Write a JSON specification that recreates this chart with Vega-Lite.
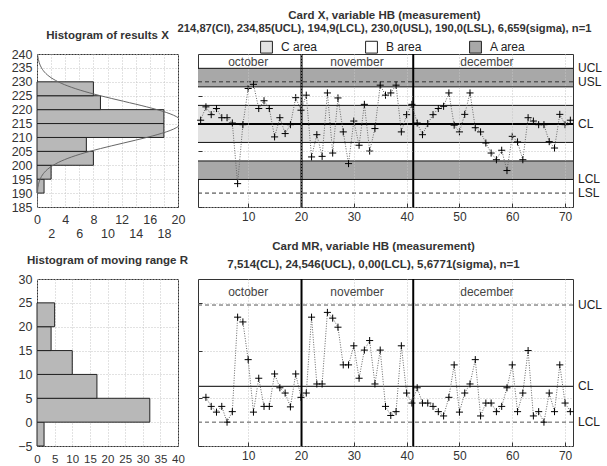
{
  "$schema": "https://vega.github.io/schema/vega-lite/v6.json",
  "background": "white",
  "padding": {"left": 10, "top": 9, "right": 2, "bottom": 2},
  "config": {
    "font": "Liberation Sans",
    "view": {"stroke": "#333", "strokeWidth": 1},
    "axis": {"labelFont": "Liberation Sans", "labelFontSize": 12, "labelColor": "#333", "gridColor": "#c4c4c4", "gridDash": [1, 2], "gridWidth": 1, "domain": false, "ticks": false, "labelOverlap": false, "labelFlush": false},
    "title": {"font": "Liberation Sans", "fontSize": 11.5, "fontWeight": "bold", "color": "#333", "subtitleFont": "Liberation Sans", "subtitleFontSize": 11.5, "subtitleFontWeight": "bold", "subtitleColor": "#333"}
  },
  "datasets": {
    "histX": [{"lo":190,"hi":195,"n":1},{"lo":195,"hi":200,"n":2},{"lo":200,"hi":205,"n":8},{"lo":205,"hi":210,"n":7},{"lo":210,"hi":215,"n":18},{"lo":215,"hi":220,"n":18},{"lo":220,"hi":225,"n":9},{"lo":225,"hi":230,"n":8}],
    "histMR": [{"lo":-5,"hi":0,"n":2},{"lo":0,"hi":5,"n":32},{"lo":5,"hi":10,"n":17},{"lo":10,"hi":15,"n":10},{"lo":15,"hi":20,"n":4},{"lo":20,"hi":25,"n":5}],
    "curveX": [{"v":185,"f":0.004},{"v":187,"f":0.012},{"v":189,"f":0.034},{"v":191,"f":0.085},{"v":193,"f":0.2},{"v":195,"f":0.44},{"v":197,"f":0.9},{"v":199,"f":1.71},{"v":201,"f":3.01},{"v":203,"f":4.92},{"v":205,"f":7.49},{"v":207,"f":10.6},{"v":209,"f":13.94},{"v":211,"f":17.04},{"v":213,"f":19.36},{"v":215,"f":20.45},{"v":217,"f":20.08},{"v":219,"f":18.33},{"v":221,"f":15.55},{"v":223,"f":12.27},{"v":225,"f":8.99},{"v":227,"f":6.13},{"v":229,"f":3.88},{"v":231,"f":2.29},{"v":233,"f":1.25},{"v":235,"f":0.64},{"v":237,"f":0.3},{"v":239,"f":0.13},{"v":240,"f":0.085}],
    "bands": [{"area":"A area","lo":228.19,"hi":234.85},{"area":"B area","lo":221.53,"hi":228.19},{"area":"C area","lo":208.21,"hi":221.53},{"area":"B area","lo":201.55,"hi":208.21},{"area":"A area","lo":194.9,"hi":201.55}],
    "edges": [{"v":234.85},{"v":228.19},{"v":221.53},{"v":208.21},{"v":201.55},{"v":194.9}],
    "specX": [{"v":230},{"v":190}],
    "limX": [{"name":"UCL","v":234.85},{"name":"USL","v":230},{"name":"CL","v":214.87},{"name":"LCL","v":194.9},{"name":"LSL","v":190}],
    "limMRdash": [{"v":24.546},{"v":0}],
    "limMR": [{"name":"UCL","v":24.546},{"name":"CL","v":7.514},{"name":"LCL","v":0}],
    "seps": [{"d":20.1},{"d":41.25}],
    "months": [{"month":"october","mid":10},{"month":"november","mid":30.6},{"month":"december","mid":55.2}],
    "xdata": [{"i":1,"v":216.2},{"i":2,"v":221.0},{"i":3,"v":218.2},{"i":4,"v":220.4},{"i":5,"v":217.1},{"i":6,"v":217.1},{"i":7,"v":215.2},{"i":8,"v":193.4},{"i":9,"v":214.6},{"i":10,"v":227.6},{"i":11,"v":229.1},{"i":12,"v":220.4},{"i":13,"v":223.2},{"i":14,"v":220.4},{"i":15,"v":210.2},{"i":16,"v":217.1},{"i":17,"v":211.4},{"i":18,"v":214.6},{"i":19,"v":224.3},{"i":20,"v":219.8},{"i":21,"v":225.2},{"i":22,"v":203.0},{"i":23,"v":211.0},{"i":24,"v":203.2},{"i":25,"v":226.0},{"i":26,"v":204.4},{"i":27,"v":224.2},{"i":28,"v":212.0},{"i":29,"v":200.6},{"i":30,"v":215.9},{"i":31,"v":207.2},{"i":32,"v":221.9},{"i":33,"v":205.1},{"i":34,"v":213.2},{"i":35,"v":228.8},{"i":36,"v":225.2},{"i":37,"v":226.0},{"i":38,"v":228.8},{"i":39,"v":212.0},{"i":40,"v":218.2},{"i":41,"v":221.9},{"i":42,"v":215.2},{"i":43,"v":211.0},{"i":44,"v":215.0},{"i":45,"v":218.2},{"i":46,"v":220.4},{"i":47,"v":221.2},{"i":48,"v":226.0},{"i":49,"v":214.4},{"i":50,"v":212.0},{"i":51,"v":218.3},{"i":52,"v":226.0},{"i":53,"v":213.5},{"i":54,"v":212.0},{"i":55,"v":208.0},{"i":56,"v":204.4},{"i":57,"v":202.0},{"i":58,"v":205.4},{"i":59,"v":198.1},{"i":60,"v":210.4},{"i":61,"v":208.4},{"i":62,"v":202.0},{"i":63,"v":217.1},{"i":64,"v":215.9},{"i":65,"v":214.6},{"i":66,"v":214.6},{"i":67,"v":208.5},{"i":68,"v":206.2},{"i":69,"v":218.3},{"i":70,"v":214.6},{"i":71,"v":216.2}],
    "mrdata": [{"i":2,"v":5.2},{"i":3,"v":3.3},{"i":4,"v":2.1},{"i":5,"v":3.3},{"i":6,"v":0},{"i":7,"v":2.2},{"i":8,"v":22.0},{"i":9,"v":21.0},{"i":10,"v":13.1},{"i":11,"v":2.1},{"i":12,"v":9.2},{"i":13,"v":3.3},{"i":14,"v":3.3},{"i":15,"v":10.1},{"i":16,"v":7.2},{"i":17,"v":6.1},{"i":18,"v":3.2},{"i":19,"v":10.1},{"i":20,"v":5.2},{"i":21,"v":6.1},{"i":22,"v":22.0},{"i":23,"v":8.0},{"i":24,"v":8.0},{"i":25,"v":23.0},{"i":26,"v":21.8},{"i":27,"v":19.9},{"i":28,"v":12.0},{"i":29,"v":12.0},{"i":30,"v":16.0},{"i":31,"v":9.2},{"i":32,"v":15.1},{"i":33,"v":17.1},{"i":34,"v":8.0},{"i":35,"v":15.1},{"i":36,"v":3.3},{"i":37,"v":1.4},{"i":38,"v":2.2},{"i":39,"v":16.0},{"i":40,"v":6.1},{"i":41,"v":4.0},{"i":42,"v":7.2},{"i":43,"v":4.0},{"i":44,"v":4.0},{"i":45,"v":3.3},{"i":46,"v":2.2},{"i":47,"v":1.3},{"i":48,"v":5.2},{"i":49,"v":12.0},{"i":50,"v":2.1},{"i":51,"v":6.1},{"i":52,"v":8.0},{"i":53,"v":13.1},{"i":54,"v":1.3},{"i":55,"v":4.0},{"i":56,"v":4.0},{"i":57,"v":2.2},{"i":58,"v":3.3},{"i":59,"v":7.2},{"i":60,"v":12.0},{"i":61,"v":2.2},{"i":62,"v":6.1},{"i":63,"v":15.0},{"i":64,"v":1.3},{"i":65,"v":2.2},{"i":66,"v":0},{"i":67,"v":6.1},{"i":68,"v":2.2},{"i":69,"v":12.0},{"i":70,"v":4.0},{"i":71,"v":2.2}]
  },
  "resolve": {"scale": {"fill": "independent"}, "legend": {"fill": "independent"}},
  "spacing": {"row": 72, "column": 20},
  "bounds": "flush",
  "columns": 2,
  "concat": [
    {
      "width": 141, "height": 153,
      "title": {"text": "Histogram of results X", "offset": 7},
      "layer": [
        {
          "data": {"name": "histX"},
          "mark": {"type": "rect", "fill": "#b8b8b8", "stroke": "#222", "strokeWidth": 1},
          "encoding": {
            "y": {"field": "lo", "type": "quantitative", "scale": {"domain": [185, 240], "nice": false, "zero": false}, "axis": {"title": null, "values": [185,190,195,200,205,210,215,220,225,230,235,240], "grid": true, "labelPadding": 5, "labelFontSize": 12.5, "labelOverlap": false, "labelFlush": false}},
            "y2": {"field": "hi"},
            "x": {"field": "n", "type": "quantitative", "scale": {"domain": [0, 20], "nice": false}, "axis": {"title": null, "values": [0,2,4,6,8,10,12,14,16,18,20], "grid": true, "labelFontSize": 12.5, "labelPadding": 6, "labelOverlap": false, "labelFlush": false, "labelExpr": "datum.value % 4 === 0 ? datum.label : ['', datum.label]"}},
            "x2": {"datum": 0}
          }
        },
        {
          "data": {"name": "curveX"},
          "mark": {"type": "line", "color": "#666", "strokeWidth": 1, "clip": true, "interpolate": "cardinal"},
          "encoding": {
            "y": {"field": "v", "type": "quantitative", "axis": {"title": null, "values": [185,190,195,200,205,210,215,220,225,230,235,240], "grid": true, "labelPadding": 5, "labelFontSize": 12.5, "labelOverlap": false, "labelFlush": false}},
            "x": {"field": "f", "type": "quantitative", "axis": {"title": null, "values": [0,2,4,6,8,10,12,14,16,18,20], "grid": true, "labelFontSize": 12.5, "labelPadding": 6, "labelOverlap": false, "labelFlush": false, "labelExpr": "datum.value % 4 === 0 ? datum.label : ['', datum.label]"}},
            "order": {"field": "v"}
          }
        }
      ]
    },
    {
      "width": 375, "height": 153,
      "title": {"text": "Card X, variable HB (measurement)", "subtitle": "214,87(Cl), 234,85(UCL), 194,9(LCL), 230,0(USL), 190,0(LSL), 6,659(sigma), n=1", "subtitleFontSize": 11.2, "subtitlePadding": 2, "offset": 6, "dx": -1},
      "layer": [
        {
          "data": {"name": "bands"},
          "mark": {"type": "rect"},
          "encoding": {
            "x": {"datum": 0.5, "type": "quantitative", "scale": {"domain": [0.5, 71.5], "nice": false, "zero": false}, "axis": {"title": null, "values": [10,20,30,40,50,60,70], "grid": true, "ticks": true, "tickSize": -4, "tickColor": "#333", "labelPadding": 8, "zindex": 1, "labelOverlap": false}},
            "x2": {"datum": 71.5},
            "y": {"field": "lo", "type": "quantitative", "scale": {"domain": [185, 240], "nice": false, "zero": false}, "axis": {"title": null, "values": [185,190,195,200,205,210,215,220,225,230,235,240], "grid": true, "labels": false, "ticks": true, "tickSize": -4, "tickColor": "#333", "zindex": 1}},
            "y2": {"field": "hi"},
            "fill": {"field": "area", "type": "nominal", "scale": {"domain": ["C area", "B area", "A area"], "range": ["#e2e2e2", "#ffffff", "#a8a8a8"]}, "legend": {"orient": "none", "legendX": 62, "legendY": -13.6, "direction": "horizontal", "title": null, "symbolType": "square", "symbolStrokeColor": "#222", "symbolStrokeWidth": 1, "symbolSize": 140, "labelFontSize": 12, "labelColor": "#222", "columnPadding": 45, "labelOffset": 8, "padding": 0}}
          }
        },
        {
          "data": {"name": "edges"},
          "mark": {"type": "rule", "color": "#111", "strokeWidth": 1},
          "encoding": {"x": {"datum": 0.5, "type": "quantitative"}, "x2": {"datum": 71.5}, "y": {"field": "v", "type": "quantitative"}}
        },
        {
          "data": {"name": "specX"},
          "mark": {"type": "rule", "color": "#333", "strokeWidth": 1, "strokeDash": [4, 3]},
          "encoding": {"x": {"datum": 0.5, "type": "quantitative"}, "x2": {"datum": 71.5}, "y": {"field": "v", "type": "quantitative"}}
        },
        {
          "data": {"name": "limX"},
          "transform": [{"filter": "datum.name === 'CL'"}],
          "mark": {"type": "rule", "color": "#000", "strokeWidth": 2},
          "encoding": {"x": {"datum": 0.5, "type": "quantitative"}, "x2": {"datum": 71.5}, "y": {"field": "v", "type": "quantitative"}}
        },
        {
          "data": {"name": "seps"},
          "mark": {"type": "rule", "color": "#000", "strokeWidth": 2},
          "encoding": {"x": {"field": "d", "type": "quantitative"}, "y": {"datum": 185, "type": "quantitative"}, "y2": {"datum": 240}}
        },
        {
          "data": {"name": "months"},
          "mark": {"type": "text", "fontSize": 12, "color": "#444", "baseline": "middle"},
          "encoding": {"x": {"field": "mid", "type": "quantitative"}, "y": {"datum": 237.2, "type": "quantitative"}, "text": {"field": "month"}}
        },
        {
          "data": {"name": "xdata"},
          "mark": {"type": "line", "color": "#666", "strokeWidth": 1, "strokeDash": [1, 1.5]},
          "encoding": {"x": {"field": "i", "type": "quantitative"}, "y": {"field": "v", "type": "quantitative"}}
        },
        {
          "data": {"name": "xdata"},
          "mark": {"type": "point", "shape": "M-1,0L1,0M0,-1L0,1", "filled": false, "stroke": "#000", "strokeWidth": 1, "size": 50, "opacity": 1},
          "encoding": {"x": {"field": "i", "type": "quantitative"}, "y": {"field": "v", "type": "quantitative"}}
        },
        {
          "data": {"name": "limX"},
          "mark": {"type": "text", "align": "left", "baseline": "middle", "dx": 5, "fontSize": 12, "color": "#222"},
          "encoding": {"x": {"datum": 71.5, "type": "quantitative"}, "y": {"field": "v", "type": "quantitative"}, "text": {"field": "name"}}
        }
      ]
    },
    {
      "width": 141, "height": 167,
      "title": {"text": "Histogram of moving range R", "offset": 7},
      "data": {"name": "histMR"},
      "mark": {"type": "rect", "fill": "#b8b8b8", "stroke": "#222", "strokeWidth": 1},
      "encoding": {
        "y": {"field": "lo", "type": "quantitative", "scale": {"domain": [-5, 30], "nice": false, "zero": false}, "axis": {"title": null, "values": [-5,0,5,10,15,20,25,30], "grid": true, "labelPadding": 5, "labelFontSize": 12.5, "labelOverlap": false, "labelFlush": false}},
        "y2": {"field": "hi"},
        "x": {"field": "n", "type": "quantitative", "scale": {"domain": [0, 40], "nice": false}, "axis": {"title": null, "values": [0,5,10,15,20,25,30,35,40], "grid": true, "labelFontSize": 11.5, "labelPadding": 7, "labelOverlap": false, "labelFlush": false}},
        "x2": {"datum": 0}
      }
    },
    {
      "width": 375, "height": 167,
      "title": {"text": "Card MR, variable HB (measurement)", "subtitle": "7,514(CL), 24,546(UCL), 0,00(LCL), 5,6771(sigma), n=1", "subtitlePadding": 6, "offset": 8, "dx": -12},
      "layer": [
        {
          "data": {"name": "limMRdash"},
          "mark": {"type": "rule", "color": "#555", "strokeWidth": 1, "strokeDash": [4, 3]},
          "encoding": {
            "x": {"datum": 0.5, "type": "quantitative", "scale": {"domain": [0.5, 71.5], "nice": false, "zero": false}, "axis": {"title": null, "values": [10,20,30,40,50,60,70], "grid": true, "ticks": true, "tickSize": -4, "tickColor": "#333", "labelPadding": 8, "labelOverlap": false}},
            "x2": {"datum": 71.5},
            "y": {"field": "v", "type": "quantitative", "scale": {"domain": [-5, 30], "nice": false, "zero": false}, "axis": {"title": null, "values": [-5,0,5,10,15,20,25,30], "grid": true, "labels": false, "ticks": true, "tickSize": -4, "tickColor": "#333"}}
          }
        },
        {
          "data": {"name": "limMR"},
          "transform": [{"filter": "datum.name === 'CL'"}],
          "mark": {"type": "rule", "color": "#333", "strokeWidth": 1.2},
          "encoding": {"x": {"datum": 0.5, "type": "quantitative"}, "x2": {"datum": 71.5}, "y": {"field": "v", "type": "quantitative"}}
        },
        {
          "data": {"name": "seps"},
          "mark": {"type": "rule", "color": "#000", "strokeWidth": 2},
          "encoding": {"x": {"field": "d", "type": "quantitative"}, "y": {"datum": -5, "type": "quantitative"}, "y2": {"datum": 30}}
        },
        {
          "data": {"name": "months"},
          "mark": {"type": "text", "fontSize": 12, "color": "#444", "baseline": "middle"},
          "encoding": {"x": {"field": "mid", "type": "quantitative"}, "y": {"datum": 27.2, "type": "quantitative"}, "text": {"field": "month"}}
        },
        {
          "data": {"name": "mrdata"},
          "mark": {"type": "line", "color": "#666", "strokeWidth": 1, "strokeDash": [1, 1.5]},
          "encoding": {"x": {"field": "i", "type": "quantitative"}, "y": {"field": "v", "type": "quantitative"}}
        },
        {
          "data": {"name": "mrdata"},
          "mark": {"type": "point", "shape": "M-1,0L1,0M0,-1L0,1", "filled": false, "stroke": "#000", "strokeWidth": 1, "size": 50, "opacity": 1},
          "encoding": {"x": {"field": "i", "type": "quantitative"}, "y": {"field": "v", "type": "quantitative"}}
        },
        {
          "data": {"name": "limMR"},
          "mark": {"type": "text", "align": "left", "baseline": "middle", "dx": 5, "fontSize": 12, "color": "#222"},
          "encoding": {"x": {"datum": 71.5, "type": "quantitative"}, "y": {"field": "v", "type": "quantitative"}, "text": {"field": "name"}}
        }
      ]
    }
  ]
}
